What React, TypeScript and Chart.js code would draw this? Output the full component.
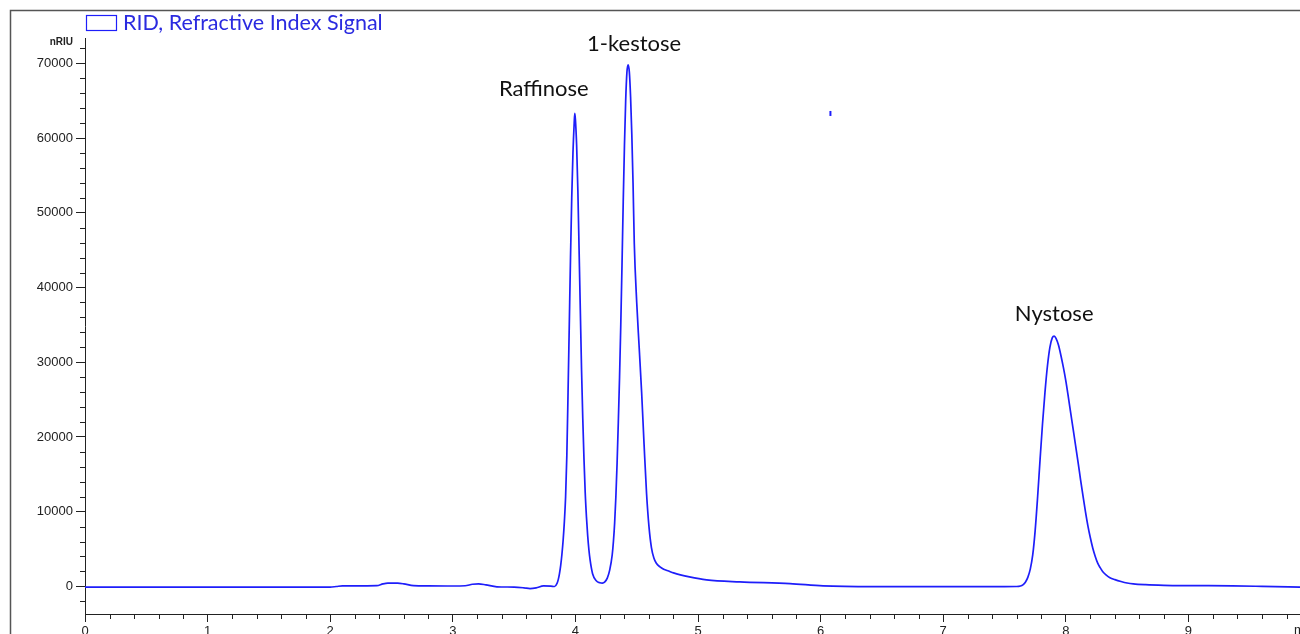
import React, { useEffect, useRef } from "react";
import { Chart, registerables } from "chart.js";

Chart.register(...registerables);

// Retention time (min) and RID signal (nRIU)
const timeMin = [
  0.0, 0.5, 1.0, 1.5, 2.0, 2.05, 2.1, 2.3, 2.38, 2.43, 2.47, 2.55, 2.6, 2.68, 2.8, 3.0, 3.1, 3.16, 3.21, 3.27,
  3.36, 3.5, 3.58, 3.63, 3.68, 3.74, 3.8, 3.83,
  // Raffinose
  3.85, 3.86, 3.87, 3.88, 3.89, 3.9, 3.91, 3.92, 3.93, 3.94, 3.95, 3.96, 3.97, 3.98, 3.99, 3.995, 4.0, 4.01,
  4.02, 4.03, 4.04, 4.05, 4.06, 4.07, 4.08, 4.09, 4.1, 4.11, 4.12, 4.14, 4.17, 4.2,
  // 1-kestose
  4.22, 4.24, 4.26, 4.28, 4.3, 4.31, 4.32, 4.33, 4.34, 4.35, 4.36, 4.37, 4.38, 4.39, 4.4, 4.41, 4.42, 4.43,
  4.44, 4.45, 4.46, 4.47, 4.48, 4.5, 4.52, 4.54, 4.56, 4.58, 4.6, 4.62, 4.64, 4.66, 4.69, 4.72, 4.76, 4.8,
  4.93, 5.07, 5.34, 5.75, 6.02, 6.43, 7.0, 7.5,
  // Nystose
  7.6, 7.63, 7.65, 7.67, 7.69, 7.71, 7.73, 7.75, 7.77, 7.79, 7.81, 7.83, 7.85, 7.87, 7.89, 7.905, 7.92, 7.94,
  7.96, 7.98, 8.0, 8.02, 8.04, 8.06, 8.08, 8.1, 8.12, 8.14, 8.16, 8.18, 8.2, 8.22, 8.24, 8.26, 8.28, 8.3,
  8.33, 8.36, 8.4, 8.45, 8.5, 8.55, 8.65, 8.8, 9.0, 9.36, 9.6, 9.91,
];
const signal = [
  -110, -110, -110, -110, -100, -20, 60, 70, 90, 330, 430, 420, 330, 100, 60, 50, 80, 280, 340, 200,
  -60, -100, -200, -300, -200, 60, 30, -20,
  // Raffinose
  400, 900, 1700, 2800, 4300, 6200, 8700, 12000, 17500, 26000, 35000, 44000, 52000, 58000, 62000, 63300, 62500, 59000,
  53000, 45000, 37000, 29000, 22500, 17000, 12500, 9300, 6800, 4900, 3500, 1700, 750, 480,
  // 1-kestose
  440, 600, 1100, 2200, 4200, 6000, 8500, 12000, 16500, 22000, 28000, 35000, 43000, 51500, 59000, 65000, 68800, 69800,
  68800, 65500, 60500, 54000, 46000, 38000, 32000, 26000, 19000, 12500, 8000, 5200, 3800, 3100, 2600, 2300, 2050, 1800,
  1270, 870, 600, 375, 70, -30, -30, -30,
  // Nystose
  -20, 50, 200, 550, 1200, 2300, 4200, 7500, 12000, 17000, 21800, 26000, 29500, 32000, 33300, 33500, 33200, 32300,
  30900, 29300, 27500, 25400, 23200, 21000, 18800, 16600, 14300, 12100, 10000, 8100, 6500, 5100, 4000, 3100, 2500, 2000,
  1500, 1150, 900, 650, 450, 330, 220, 140, 100, 70, 0, -110,
];

// Stray single data mark near 6.08 min
const strayTime = [6.08];
const straySignal = [63300];

const peakNames = ["Raffinose", "1-kestose", "Nystose"];
const peakTimes = [3.995, 4.43, 7.905];
const peakHeights = [63300, 69800, 33500];

const xTickLabels = ["0", "1", "2", "3", "4", "5", "6", "7", "8", "9"];
const yTickLabels = ["0", "10000", "20000", "30000", "40000", "50000", "60000", "70000"];

const seriesLabel = "RID, Refractive Index Signal";
const lineColor = "#1e1efa";

export default function App() {
  const ref = useRef<HTMLCanvasElement | null>(null);

  useEffect(() => {
    const canvas = ref.current;
    if (!canvas) return;

    const overlay = {
      id: "overlay",
      afterDraw(chart: any) {
        const ctx = chart.ctx as CanvasRenderingContext2D;
        const xs = chart.scales.x;
        const ys = chart.scales.y;
        const area = chart.chartArea;
        ctx.save();
        // frame
        ctx.strokeStyle = "#555";
        ctx.lineWidth = 1.5;
        ctx.beginPath();
        ctx.moveTo(10.5, 634);
        ctx.lineTo(10.5, 10.5);
        ctx.lineTo(1300, 10.5);
        ctx.stroke();

        // minor ticks
        ctx.strokeStyle = "#222";
        ctx.lineWidth = 1;
        ctx.beginPath();
        for (let i = 1; i < 50; i++) {
          if (i % 5 === 0) continue;
          const px = Math.round(xs.getPixelForValue(i / 5)) + 0.5;
          ctx.moveTo(px, area.bottom);
          ctx.lineTo(px, area.bottom + 5);
        }
        for (let v = -2000; v <= 72000; v += 2000) {
          if (v % 10000 === 0) continue;
          const py = Math.round(ys.getPixelForValue(v)) + 0.5;
          ctx.moveTo(area.left - 5, py);
          ctx.lineTo(area.left, py);
        }
        ctx.stroke();

        // unit labels
        ctx.fillStyle = "#222";
        ctx.font = "bold 10px 'Liberation Sans'";
        ctx.textAlign = "right";
        ctx.textBaseline = "middle";
        ctx.fillText("nRIU", 73, 42);
        ctx.font = "13px 'Liberation Sans'";
        ctx.textAlign = "left";
        ctx.textBaseline = "top";
        ctx.fillText("min", 1294, 624);

        // peak annotations
        ctx.fillStyle = "#111";
        ctx.font = "22px Lato";
        ctx.textAlign = "center";
        ctx.textBaseline = "alphabetic";
        const offsets = [
          [-31, -17],
          [6, -14],
          [0, -15],
        ];
        peakNames.forEach((name, i) => {
          const px = xs.getPixelForValue(peakTimes[i]) + offsets[i][0];
          const py = ys.getPixelForValue(peakHeights[i]) + offsets[i][1];
          ctx.fillText(name, px, py);
        });

        // legend
        ctx.strokeStyle = lineColor;
        ctx.lineWidth = 1.2;
        ctx.strokeRect(86.5, 15.5, 30, 15);
        ctx.fillStyle = "#2a2ae0";
        ctx.font = "21.5px Lato";
        ctx.textAlign = "left";
        ctx.textBaseline = "alphabetic";
        ctx.fillText(seriesLabel, 123, 30);
        ctx.restore();
      },
    };

    const chart = new Chart(canvas, {
      type: "line",
      data: {
        datasets: [
          {
            label: seriesLabel,
            data: timeMin.map((t, i) => ({ x: t, y: signal[i] })),
            borderColor: lineColor,
            borderWidth: 1.7,
            pointRadius: 0,
            cubicInterpolationMode: "monotone",
            fill: false,
          },
          {
            label: "stray",
            data: strayTime.map((t, i) => ({ x: t, y: straySignal[i] })),
            showLine: false,
            pointStyle: "line",
            rotation: 90,
            pointRadius: 2.5,
            borderWidth: 2,
            borderColor: lineColor,
          },
        ],
      },
      options: {
        animation: false,
        responsive: false,
        devicePixelRatio: 1,
        layout: { autoPadding: false, padding: { left: 0, right: 0, top: 38, bottom: 0 } },
        plugins: { legend: { display: false }, tooltip: { enabled: false } },
        scales: {
          x: {
            type: "linear",
            min: 0,
            max: 9.91,
            afterBuildTicks: (s: any) => {
              s.ticks = xTickLabels.map((l) => ({ value: Number(l) }));
            },
            afterFit: (s: any) => {
              s.height = 20;
              s.paddingLeft = 0;
              s.paddingRight = 0;
            },
            grid: { drawOnChartArea: false, drawTicks: true, tickLength: 8, color: "#222" },
            border: { display: true, color: "#222", width: 1 },
            ticks: {
              color: "#222",
              font: { family: "'Liberation Sans'", size: 13 },
              padding: 2,
              maxRotation: 0,
              autoSkip: false,
              callback: (v: any) => String(v),
            },
          },
          y: {
            type: "linear",
            min: -3700,
            max: 73400,
            afterBuildTicks: (s: any) => {
              s.ticks = yTickLabels.map((l) => ({ value: Number(l) }));
            },
            afterFit: (s: any) => {
              s.width = 85;
              s.paddingTop = 0;
              s.paddingBottom = 0;
            },
            grid: { drawOnChartArea: false, drawTicks: true, tickLength: 9, color: "#222" },
            border: { display: true, color: "#222", width: 1 },
            ticks: {
              color: "#222",
              font: { family: "'Liberation Sans'", size: 13 },
              padding: 3,
              autoSkip: false,
              callback: (v: any) => String(v),
            },
          },
        },
      },
      plugins: [overlay],
    });

    return () => chart.destroy();
  }, []);

  return (
    <div style={{ position: "absolute", left: 0, top: 0, width: 1300, height: 634, background: "#fff" }}>
      <canvas ref={ref} width={1300} height={634} style={{ width: 1300, height: 634, display: "block" }} />
    </div>
  );
}
